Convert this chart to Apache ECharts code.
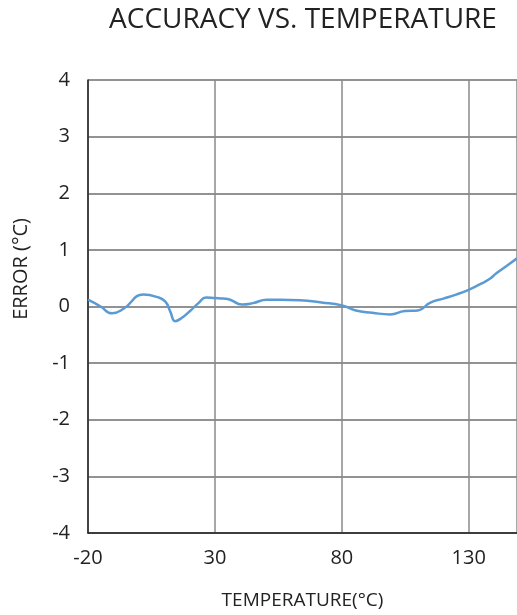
<!DOCTYPE html>
<html>
<head>
<meta charset="utf-8">
<script src="https://cdn.jsdelivr.net/npm/echarts@6/dist/echarts.min.js"></script>
<style>html,body{margin:0;padding:0;background:#fff}#c{width:517px;height:615px}</style>
</head>
<body>
<div id="c"></div>
<script>
var temperature = [-20, -15, -10.6, -6, 1.8, 7, 10.4, 12.5, 14.3, 17, 20.2, 23.5, 26.5, 30, 33.3, 36, 40.6, 45, 50.4, 55.6, 63.5, 72, 80, 85.5, 92, 99, 104.8, 110, 114.7, 120, 125, 129.7, 134.3, 138, 141, 145, 149];
var errorVals = [0.12, 0.0, -0.12, -0.04, 0.21, 0.17, 0.09, -0.1, -0.26, -0.2, -0.08, 0.06, 0.16, 0.15, 0.14, 0.12, 0.035, 0.06, 0.12, 0.12, 0.11, 0.07, 0.02, -0.07, -0.11, -0.14, -0.08, -0.07, 0.065, 0.14, 0.21, 0.29, 0.39, 0.48, 0.59, 0.72, 0.85];
var xTicks = [-20, 30, 80, 130];
var yTicks = [-4, -3, -2, -1, 0, 1, 2, 3, 4];

var data = temperature.map(function (t, i) { return [t, errorVals[i]]; });
var font = '"Open Sans", "Noto Sans", sans-serif';
var chart = echarts.init(document.getElementById('c'));
chart.setOption({
  animation: false,
  textStyle: { fontFamily: font },
  title: {
    text: 'ACCURACY VS. TEMPERATURE',
    left: 298, top: 1, textAlign: 'center',
    textStyle: { fontFamily: font, fontSize: 28, fontWeight: 'normal', color: '#222' }
  },
  grid: { left: 88, right: 0, top: 80, bottom: 79, containLabel: false },
  xAxis: {
    type: 'value', min: xTicks[0], max: 149, interval: 50,
    name: 'TEMPERATURE(°C)', nameLocation: 'middle', nameGap: 58,
    nameTextStyle: { fontFamily: font, fontSize: 19, color: '#222' },
    axisLine: { show: true, onZero: false, lineStyle: { color: '#222', width: 1.5 } },
    axisTick: { show: false },
    axisLabel: { fontFamily: font, fontSize: 20, color: '#222', margin: 15, showMaxLabel: false },
    splitLine: { show: true, lineStyle: { color: '#8a8a8a', width: 1.5 } }
  },
  yAxis: {
    type: 'value', min: yTicks[0], max: yTicks[yTicks.length - 1], interval: 1,
    axisLine: { show: true, onZero: false, lineStyle: { color: '#222', width: 1.5 } },
    axisTick: { show: false },
    axisLabel: { fontFamily: font, fontSize: 20, color: '#222', margin: 18 },
    splitLine: { show: true, lineStyle: { color: '#6e6e6e', width: 1.5 } }
  },
  graphic: [{
    type: 'text', left: 11, top: 218, rotation: Math.PI / 2,
    style: { text: 'ERROR (°C)', font: '20px ' + font, fill: '#222' }
  }],
  series: [{
    type: 'line', data: data, smooth: 0.5, showSymbol: false,
    lineStyle: { color: '#5b9bd5', width: 2.5 }
  }]
});
</script>
</body>
</html>
